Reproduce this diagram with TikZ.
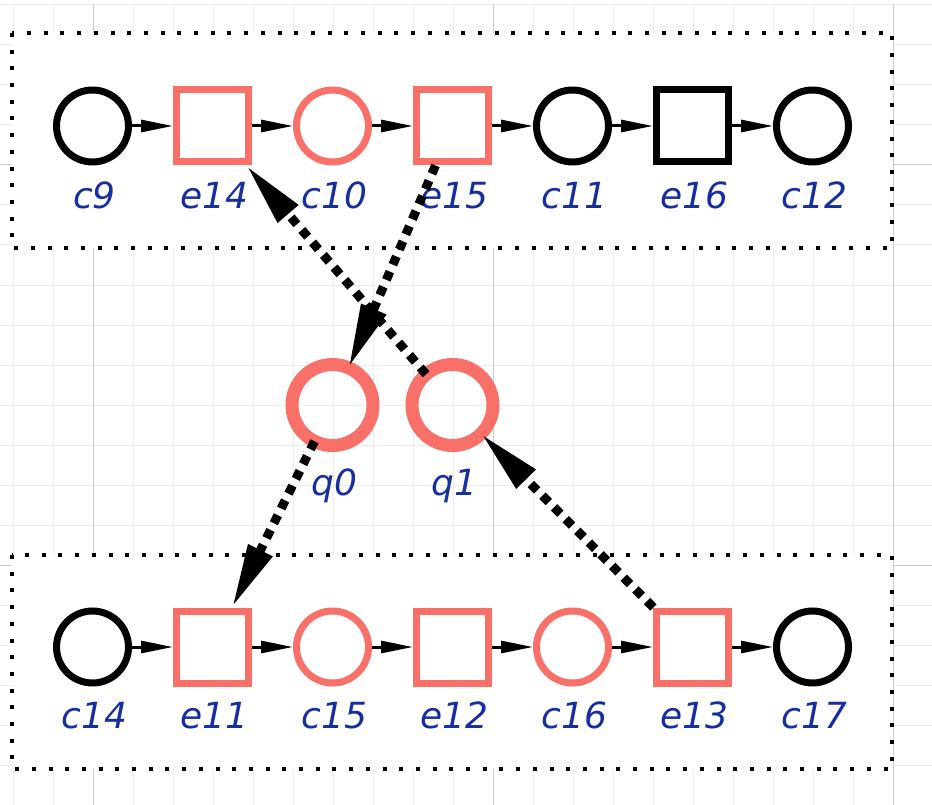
\documentclass[tikz,border=0pt]{standalone}
\usepackage{fontspec}
\newfontfamily\lblfont{DejaVu Sans}
\usetikzlibrary{arrows.meta}
\definecolor{salmon}{RGB}{248,112,104}
\definecolor{lblblue}{RGB}{22,46,160}
\definecolor{gridminor}{RGB}{236,236,236}
\definecolor{gridmajor}{RGB}{205,205,205}
\begin{document}
\begin{tikzpicture}[x=1pt,y=-1pt,
  place/.style={circle,draw,line width=7pt,minimum size=72pt,inner sep=0pt,outer sep=3.5pt},
  trans/.style={rectangle,draw,line width=7pt,minimum size=72pt,inner sep=0pt,outer sep=3.5pt},
  query/.style={circle,draw=salmon,line width=13pt,minimum size=81pt,inner sep=0pt,outer sep=0pt},
  hot/.style={draw=salmon},
  lbl/.style={anchor=base,text=lblblue,inner sep=0pt,xshift=2pt,
    font=\lblfont\itshape\fontsize{36}{40}\selectfont},
  flow/.style={line width=3pt,-{Triangle[length=32pt,width=12pt]}},
  link/.style={line width=9pt,dash pattern=on 9pt off 7.5pt,-{Triangle[length=64pt,width=25pt]}},
  frame/.style={draw,fill=white,line width=4pt,dash pattern=on 4pt off 12.7pt}
]
\useasboundingbox (0,0) rectangle (932,805);

% background grid
\foreach \x in {13,53,...,933} \draw[gridminor,line width=1pt] (\x,5) -- (\x,805);
\foreach \y in {5,45,...,805} \draw[gridminor,line width=1pt] (0,\y) -- (932,\y);
\foreach \x in {93,493,893} \draw[gridmajor,line width=1pt] (\x,5) -- (\x,805);
\foreach \y in {165,565} \draw[gridmajor,line width=1pt] (0,\y) -- (932,\y);

% dotted frames around the two rows
\draw[frame] (12,33) rectangle (892,248);
\draw[frame] (12,555) rectangle (892,769);

% upper row
\node[place]     (c9)  at (92.5,126) {};
\node[trans,hot] (e14) at (212.5,126) {};
\node[place,hot] (c10) at (332.5,126) {};
\node[trans,hot] (e15) at (452.5,126) {};
\node[place]     (c11) at (572.5,126) {};
\node[trans]     (e16) at (692.5,126) {};
\node[place]     (c12) at (812.5,126) {};

% lower row
\node[place]     (c14) at (92.5,647) {};
\node[trans,hot] (e11) at (212.5,647) {};
\node[place,hot] (c15) at (332.5,647) {};
\node[trans,hot] (e12) at (452.5,647) {};
\node[place,hot] (c16) at (572.5,647) {};
\node[trans,hot] (e13) at (692.5,647) {};
\node[place]     (c17) at (812.5,647) {};

% query places
\node[query] (q0) at (332.5,405) {};
\node[query] (q1) at (452.5,405) {};

% labels
\node[lbl] (lc9)  at (92.5,209) {c9};
\node[lbl] (le14) at (212.5,209) {e14};
\node[lbl] (lc10) at (332.5,209) {c10};
\node[lbl] (le15) at (452.5,209) {e15};
\node[lbl] (lc11) at (572.5,209) {c11};
\node[lbl] (le16) at (692.5,209) {e16};
\node[lbl] (lc12) at (812.5,209) {c12};
\node[lbl] (lc14) at (92.5,728) {c14};
\node[lbl] (le11) at (212.5,728) {e11};
\node[lbl] (lc15) at (332.5,728) {c15};
\node[lbl] (le12) at (452.5,728) {e12};
\node[lbl] (lc16) at (572.5,728) {c16};
\node[lbl] (le13) at (692.5,728) {e13};
\node[lbl] (lc17) at (812.5,728) {c17};
\node[lbl] (lq0)  at (332.5,495) {q0};
\node[lbl] (lq1)  at (452.5,495) {q1};

% flow arcs
\draw[flow] (c9) -- (e14);
\draw[flow] (e14) -- (c10);
\draw[flow] (c10) -- (e15);
\draw[flow] (e15) -- (c11);
\draw[flow] (c11) -- (e16);
\draw[flow] (e16) -- (c12);
\draw[flow] (c14) -- (e11);
\draw[flow] (e11) -- (c15);
\draw[flow] (c15) -- (e12);
\draw[flow] (e12) -- (c16);
\draw[flow] (c16) -- (e13);
\draw[flow] (e13) -- (c17);

% query links
\draw[link] (e15) -- (q0);
\draw[link] (q1) -- (e14);
\draw[link] (q0) -- (e11);
\draw[link] (e13) -- (q1);
\end{tikzpicture}
\end{document}
